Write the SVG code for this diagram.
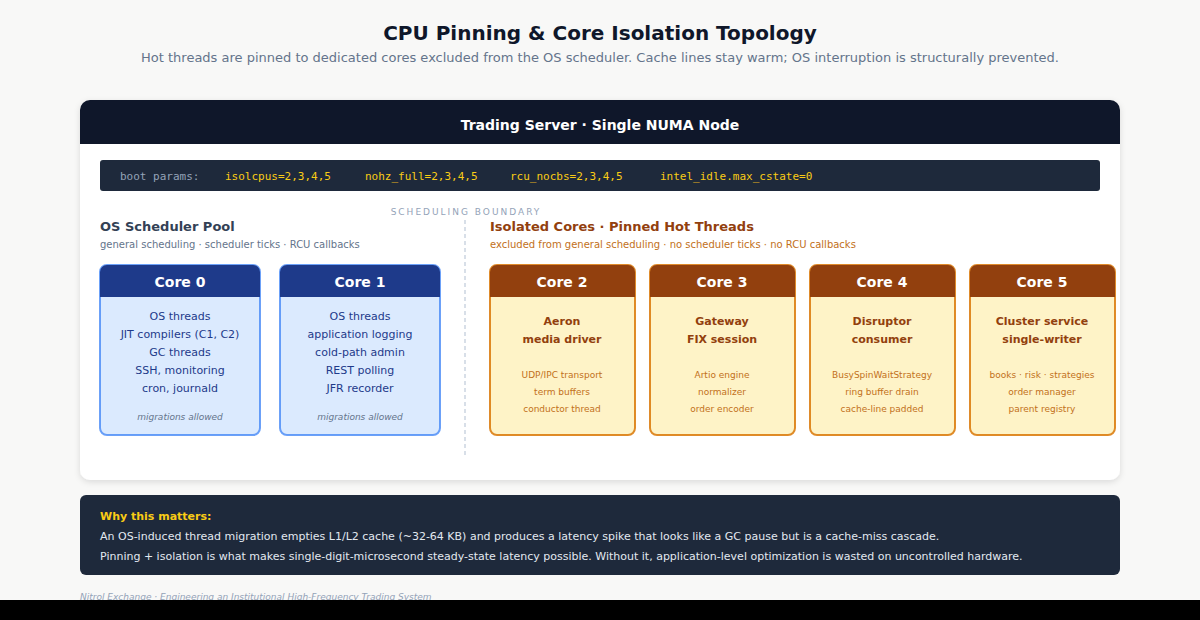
<svg xmlns="http://www.w3.org/2000/svg" width="1200" height="620" viewBox="0 0 1200 620">
<defs>
<style>
text{font-family:"DejaVu Sans",Verdana,sans-serif}
.mono{font-family:"DejaVu Sans Mono",monospace;font-size:11px}
.bh{fill:#1e3a8a}.bb{fill:#dbeafe;stroke:#3b82f6;stroke-width:2;stroke-opacity:.75}
.oh{fill:#92400e}.ob{fill:#fef3c7;stroke:#d97706;stroke-width:2;stroke-opacity:.85}
.ht{fill:#fff;font-size:14px;font-weight:bold;text-anchor:middle}
.bt{fill:#1e3a8a;font-size:11px;text-anchor:middle}
.bi{fill:#64748b;font-size:9px;font-style:italic;text-anchor:middle}
.ot{fill:#92400e;font-size:11px;font-weight:bold;text-anchor:middle}
.os{fill:#c2701a;font-size:9px;text-anchor:middle}
</style>
<filter id="sh" x="-5%" y="-5%" width="110%" height="115%"><feDropShadow dx="0" dy="2" stdDeviation="3" flood-opacity=".12"/></filter>
</defs>
<rect width="1200" height="620" fill="#f8f8f7"/>
<text x="600" y="40" text-anchor="middle" font-size="20" font-weight="bold" fill="#0f172a">CPU Pinning &amp; Core Isolation Topology</text>
<text x="600" y="62" text-anchor="middle" font-size="13" fill="#64748b">Hot threads are pinned to dedicated cores excluded from the OS scheduler. Cache lines stay warm; OS interruption is structurally prevented.</text>
<g id="server">
<rect x="80" y="100" width="1040" height="380" rx="10" fill="#fff" filter="url(#sh)"/>
<path d="M80 144V110a10 10 0 0 1 10-10h1020a10 10 0 0 1 10 10v34z" fill="#0f172a"/>
<text x="600" y="130" text-anchor="middle" font-size="14" font-weight="bold" fill="#fff">Trading Server · Single NUMA Node</text>
</g>
<g id="boot">
<rect x="100" y="160" width="1000" height="31" rx="3" fill="#1e293b"/>
<text class="mono" x="120" y="180" fill="#94a3b8">boot params:</text>
<text class="mono" y="180" fill="#facc15"><tspan x="225">isolcpus=2,3,4,5</tspan><tspan x="365">nohz_full=2,3,4,5</tspan><tspan x="510">rcu_nocbs=2,3,4,5</tspan><tspan x="660">intel_idle.max_cstate=0</tspan></text>
</g>
<g id="boundary">
<text x="466" y="215" text-anchor="middle" font-size="9" letter-spacing="2" fill="#94a3b8">SCHEDULING BOUNDARY</text>
<line x1="465" y1="220" x2="465" y2="455" stroke="#cbd5e1" stroke-width="1.5" stroke-dasharray="4 3"/>
</g>
<g id="os-pool">
<text x="100" y="231" font-size="13" font-weight="bold" fill="#334155">OS Scheduler Pool</text>
<text x="100" y="248" font-size="10" fill="#64748b">general scheduling · scheduler ticks · RCU callbacks</text>
</g>
<g id="iso-pool">
<text x="490" y="231" font-size="13" font-weight="bold" fill="#92400e">Isolated Cores · Pinned Hot Threads</text>
<text x="490" y="248" font-size="10" fill="#c2701a">excluded from general scheduling · no scheduler ticks · no RCU callbacks</text>
</g>
<g id="core0">
<rect class="bb" x="100" y="265" width="160" height="170" rx="7"/>
<path class="bh" d="M100 297V272a7 7 0 0 1 7-7h146a7 7 0 0 1 7 7v25z"/>
<text class="ht" x="180" y="287">Core 0</text>
<text class="bt" x="180" y="320">OS threads</text><text class="bt" x="180" y="338">JIT compilers (C1, C2)</text><text class="bt" x="180" y="356">GC threads</text><text class="bt" x="180" y="374">SSH, monitoring</text><text class="bt" x="180" y="392">cron, journald</text>
<text class="bi" x="180" y="420">migrations allowed</text>
</g>
<g id="core1">
<rect class="bb" x="280" y="265" width="160" height="170" rx="7"/>
<path class="bh" d="M280 297V272a7 7 0 0 1 7-7h146a7 7 0 0 1 7 7v25z"/>
<text class="ht" x="360" y="287">Core 1</text>
<text class="bt" x="360" y="320">OS threads</text><text class="bt" x="360" y="338">application logging</text><text class="bt" x="360" y="356">cold-path admin</text><text class="bt" x="360" y="374">REST polling</text><text class="bt" x="360" y="392">JFR recorder</text>
<text class="bi" x="360" y="420">migrations allowed</text>
</g>
<g id="core2">
<rect class="ob" x="490" y="265" width="145" height="170" rx="7"/>
<path class="oh" d="M490 297V272a7 7 0 0 1 7-7h131a7 7 0 0 1 7 7v25z"/>
<text class="ht" x="562" y="287">Core 2</text>
<text class="ot" x="562" y="325">Aeron</text><text class="ot" x="562" y="343">media driver</text>
<text class="os" x="562" y="378">UDP/IPC transport</text><text class="os" x="562" y="395">term buffers</text><text class="os" x="562" y="412">conductor thread</text>
</g>
<g id="core3">
<rect class="ob" x="650" y="265" width="145" height="170" rx="7"/>
<path class="oh" d="M650 297V272a7 7 0 0 1 7-7h131a7 7 0 0 1 7 7v25z"/>
<text class="ht" x="722" y="287">Core 3</text>
<text class="ot" x="722" y="325">Gateway</text><text class="ot" x="722" y="343">FIX session</text>
<text class="os" x="722" y="378">Artio engine</text><text class="os" x="722" y="395">normalizer</text><text class="os" x="722" y="412">order encoder</text>
</g>
<g id="core4">
<rect class="ob" x="810" y="265" width="145" height="170" rx="7"/>
<path class="oh" d="M810 297V272a7 7 0 0 1 7-7h131a7 7 0 0 1 7 7v25z"/>
<text class="ht" x="882" y="287">Core 4</text>
<text class="ot" x="882" y="325">Disruptor</text><text class="ot" x="882" y="343">consumer</text>
<text class="os" x="882" y="378">BusySpinWaitStrategy</text><text class="os" x="882" y="395">ring buffer drain</text><text class="os" x="882" y="412">cache-line padded</text>
</g>
<g id="core5">
<rect class="ob" x="970" y="265" width="145" height="170" rx="7"/>
<path class="oh" d="M970 297V272a7 7 0 0 1 7-7h131a7 7 0 0 1 7 7v25z"/>
<text class="ht" x="1042" y="287">Core 5</text>
<text class="ot" x="1042" y="325">Cluster service</text><text class="ot" x="1042" y="343">single-writer</text>
<text class="os" x="1042" y="378">books · risk · strategies</text><text class="os" x="1042" y="395">order manager</text><text class="os" x="1042" y="412">parent registry</text>
</g>
<g id="connectors"></g>
<g id="why">
<rect x="80" y="495" width="1040" height="80" rx="6" fill="#1e293b"/>
<text x="100" y="520" font-size="11" font-weight="bold" fill="#facc15">Why this matters:</text>
<text x="100" y="540" font-size="11" fill="#e2e8f0">An OS-induced thread migration empties L1/L2 cache (~32-64 KB) and produces a latency spike that looks like a GC pause but is a cache-miss cascade.</text>
<text x="100" y="560" font-size="11" fill="#e2e8f0">Pinning + isolation is what makes single-digit-microsecond steady-state latency possible. Without it, application-level optimization is wasted on uncontrolled hardware.</text>
</g>
<text x="80" y="600" font-size="9" font-style="italic" fill="#94a3b8">Nitrol Exchange · Engineering an Institutional High-Frequency Trading System</text>
<rect x="0" y="600" width="1200" height="20" fill="#000"/>
</svg>
